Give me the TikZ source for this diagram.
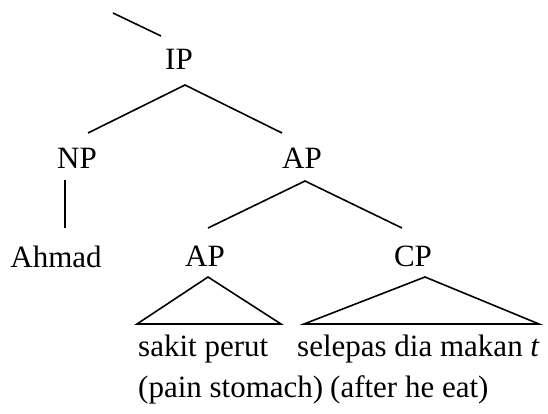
\documentclass[tikz,border=0pt]{standalone}
\usepackage{fontspec}
\setmainfont{Liberation Serif}
\begin{document}
\begin{tikzpicture}[x=1pt,y=-1pt,
  lbl/.style={font=\fontsize{31}{36}\selectfont, inner sep=0pt, anchor=base},
  lblw/.style={font=\fontsize{31}{36}\selectfont, inner sep=0pt, anchor=base west},
  edge/.style={line width=1.6pt, line join=miter}]
\useasboundingbox (0,0) rectangle (548,414);
% labels
\node[lbl] (ip) at (179,70) {IP};
\node[lbl] (np) at (77,168) {NP};
\node[lbl] (ap) at (302,168) {AP};
\node[lbl] (ahmad) at (56,267) {Ahmad};
\node[lbl] (ap2) at (205,266) {AP};
\node[lbl] (cp) at (413,266) {CP};
\node[lblw] (w1) at (138,356) {sakit perut};
\node[lblw] (w2) at (297,356) {selepas dia makan \textit{t}};
\node[lblw] (gl1) at (138,397) {(pain stomach)};
\node[lblw] (gl2) at (330,397) {(after he eat)};
% connector points
\coordinate (top1) at (113,13);
\coordinate (top2) at (161,36);
\coordinate (ipA) at (185,85);
\coordinate (npT) at (88,133);
\coordinate (apT) at (282,133);
\coordinate (npB) at (65,180);
\coordinate (ahT) at (65,228);
\coordinate (apA) at (305,181);
\coordinate (ap2T) at (208,228);
\coordinate (cpT) at (402,228);
\coordinate (t1A) at (208,277);
\coordinate (t1L) at (137,324);
\coordinate (t1R) at (281,324);
\coordinate (t2A) at (425,277);
\coordinate (t2L) at (304,324);
\coordinate (t2R) at (539,324);
% edges
\draw[edge] (top1) -- (top2);
\draw[edge] (npT) -- (ipA) -- (apT);
\draw[edge] (npB) -- (ahT);
\draw[edge] (ap2T) -- (apA) -- (cpT);
\draw[edge] (t1L) -- (t1A) -- (t1R) -- cycle;
\draw[edge] (t2L) -- (t2A) -- (t2R) -- cycle;
\end{tikzpicture}
\end{document}
